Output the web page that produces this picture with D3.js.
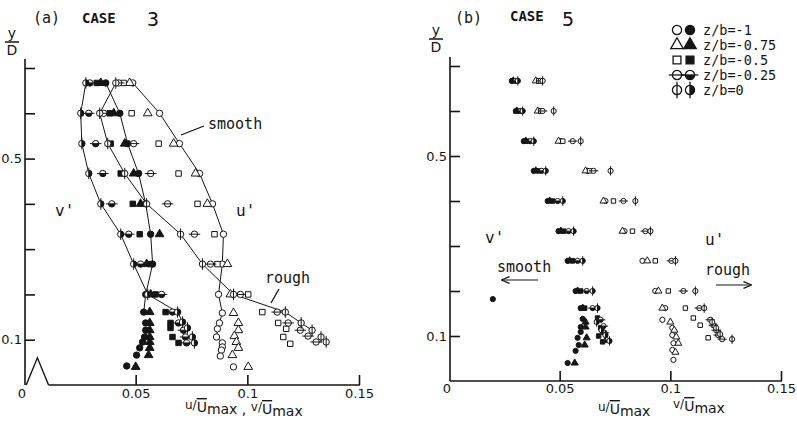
<!DOCTYPE html>
<html>
<head>
<meta charset="utf-8">
<script src="https://cdn.jsdelivr.net/npm/d3@7"></script>
<style>
  body { margin: 0; background: #fff; }
  svg { display: block; }
  .mono { font-family: "DejaVu Sans Mono", monospace; }
  .sans { font-family: "DejaVu Sans", sans-serif; }
</style>
</head>
<body>
<svg id="chart" width="797" height="422"></svg>
<script>
// ---- tick values / labels ----
const yTicks = [0.1, 0.2, 0.3, 0.4, 0.5, 0.6, 0.7];
const yLabelled = [0.1, 0.5];
const xTicks = [0.05, 0.1, 0.15];
const zbLabels = ["z/b=-1", "z/b=-0.75", "z/b=-0.5", "z/b=-0.25", "z/b=0"];
const shapes = ["circle", "triangle", "square", "hbar", "vbar"];

// ---- CASE 3 : u' (open symbols), one array per z/b ----
const c3u_m1 = [[0.0487,0.667],[0.0607,0.6],[0.0696,0.533],[0.0786,0.467],[0.0844,0.4],[0.0893,0.333],[0.0888,0.267],[0.0871,0.2],[0.0888,0.159],[0.0875,0.137],[0.0866,0.124],[0.0862,0.106],[0.0888,0.093],[0.0888,0.084],[0.0884,0.077],[0.0879,0.064],[0.0938,0.04]];
const c3u_m075 = [[0.0473,0.667],[0.0554,0.6],[0.067,0.533],[0.0768,0.467],[0.0821,0.4],[0.0911,0.267],[0.0924,0.2],[0.0938,0.159],[0.096,0.137],[0.096,0.121],[0.0942,0.108],[0.0951,0.095],[0.096,0.082],[0.0933,0.066],[0.1004,0.04]];
const c3u_m05 = [[0.0446,0.667],[0.0482,0.6],[0.0603,0.533],[0.0692,0.467],[0.0777,0.4],[0.0853,0.333],[0.0866,0.267],[0.1004,0.2],[0.1067,0.161],[0.1138,0.137],[0.1174,0.124],[0.1161,0.106],[0.1192,0.091]];
const c3u_m025 = [[0.0424,0.667],[0.0357,0.6],[0.0491,0.533],[0.0567,0.467],[0.0643,0.4],[0.0763,0.333],[0.0835,0.267],[0.0969,0.2],[0.1134,0.161],[0.1183,0.137],[0.1237,0.121],[0.1272,0.108],[0.1308,0.095]];
const c3u_0 = [[0.0411,0.667],[0.0339,0.6],[0.0375,0.533],[0.0451,0.467],[0.0549,0.4],[0.0701,0.333],[0.0799,0.267],[0.0938,0.2],[0.117,0.161],[0.1241,0.137],[0.129,0.121],[0.133,0.106],[0.1353,0.095]];

// ---- CASE 3 : v' (filled symbols) ----
const c3v_m1 = [[0.0366,0.667],[0.0429,0.6],[0.0464,0.533],[0.0513,0.467],[0.0545,0.4],[0.0567,0.333],[0.0576,0.267],[0.0545,0.2],[0.0536,0.161],[0.0545,0.137],[0.0545,0.121],[0.054,0.106],[0.0531,0.095],[0.0518,0.082],[0.0504,0.066],[0.046,0.042]];
const c3v_m075 = [[0.0344,0.667],[0.0402,0.6],[0.0451,0.533],[0.0491,0.467],[0.0522,0.4],[0.0607,0.333],[0.0549,0.267],[0.0567,0.2],[0.0563,0.161],[0.0563,0.137],[0.0563,0.121],[0.0563,0.106],[0.0563,0.095],[0.0563,0.082],[0.0558,0.066],[0.05,0.04]];
const c3v_m05 = [[0.0326,0.667],[0.0384,0.6],[0.0388,0.533],[0.0433,0.467],[0.0487,0.4],[0.0518,0.333],[0.0567,0.267],[0.0589,0.2],[0.0634,0.161],[0.0656,0.137],[0.0656,0.126],[0.0665,0.106],[0.0692,0.093]];
const c3v_m025 = [[0.0295,0.667],[0.029,0.6],[0.0321,0.533],[0.0353,0.467],[0.0393,0.4],[0.0469,0.333],[0.0522,0.267],[0.0616,0.2],[0.0665,0.161],[0.0692,0.137],[0.0714,0.121],[0.0723,0.106],[0.0728,0.093]];
const c3v_0 = [[0.0277,0.667],[0.0254,0.6],[0.0259,0.533],[0.029,0.467],[0.0344,0.4],[0.0433,0.333],[0.0491,0.267],[0.0554,0.2],[0.0688,0.161],[0.071,0.139],[0.0732,0.126],[0.0754,0.106],[0.0763,0.093]];

// ---- CASE 5 : u' (open) ----
const c5u_m1 = [[0.0401,0.667],[0.041,0.6],[0.0505,0.533],[0.0626,0.467],[0.0707,0.4],[0.0793,0.333],[0.0874,0.267],[0.0932,0.2],[0.0977,0.162],[0.0964,0.136],[0.1009,0.118],[0.1009,0.102],[0.1014,0.084],[0.1009,0.069],[0.1014,0.047]];
const c5u_m075 = [[0.0392,0.667],[0.0401,0.6],[0.0495,0.533],[0.0617,0.467],[0.0698,0.4],[0.0784,0.333],[0.0896,0.267],[0.0946,0.2],[0.0964,0.162],[0.1,0.131],[0.1018,0.113],[0.1027,0.098],[0.1036,0.084],[0.1023,0.064]];
const c5u_m05 = [[0.0405,0.667],[0.0414,0.6],[0.0514,0.533],[0.0635,0.467],[0.0743,0.4],[0.0829,0.333],[0.0932,0.267],[0.0991,0.2],[0.1068,0.162],[0.1104,0.14],[0.1135,0.124],[0.1171,0.096]];
const c5u_m025 = [[0.0414,0.667],[0.0423,0.6],[0.0559,0.533],[0.0653,0.467],[0.0788,0.4],[0.0887,0.333],[0.1005,0.267],[0.1059,0.2],[0.1131,0.162],[0.118,0.136],[0.1194,0.124],[0.1207,0.113],[0.1216,0.102],[0.1234,0.093]];
const c5u_0 = [[0.0423,0.667],[0.0473,0.6],[0.0595,0.533],[0.073,0.467],[0.0842,0.4],[0.091,0.333],[0.1023,0.267],[0.1113,0.2],[0.1153,0.162],[0.1189,0.131],[0.1207,0.118],[0.1225,0.104],[0.1279,0.093]];

// ---- CASE 5 : v' (filled) ----
const c5v_m1 = [[0.0284,0.667],[0.0302,0.6],[0.0338,0.533],[0.0383,0.467],[0.0446,0.4],[0.0495,0.333],[0.0536,0.267],[0.0572,0.2],[0.0198,0.182],[0.0595,0.162],[0.0604,0.138],[0.0595,0.12],[0.0595,0.109],[0.0581,0.096],[0.0586,0.08],[0.0572,0.067],[0.0536,0.04]];
const c5v_m075 = [[0.029,0.667],[0.0306,0.6],[0.0347,0.533],[0.0392,0.467],[0.0455,0.4],[0.0505,0.333],[0.0545,0.267],[0.0581,0.2],[0.0604,0.162],[0.0617,0.131],[0.0617,0.12],[0.0622,0.096],[0.0613,0.08],[0.0568,0.04]];
const c5v_m05 = [[0.0293,0.667],[0.0315,0.6],[0.0356,0.533],[0.0405,0.467],[0.0468,0.4],[0.0518,0.333],[0.0559,0.267],[0.0595,0.2],[0.0613,0.162],[0.0671,0.14],[0.0685,0.118],[0.0676,0.1],[0.0694,0.087]];
const c5v_m025 = [[0.0302,0.667],[0.0324,0.6],[0.0369,0.533],[0.0419,0.467],[0.0491,0.4],[0.054,0.333],[0.0581,0.267],[0.0622,0.2],[0.0649,0.162],[0.0685,0.136],[0.0698,0.122],[0.0703,0.107],[0.0712,0.091]];
const c5v_0 = [[0.0311,0.667],[0.0333,0.6],[0.0383,0.533],[0.0437,0.467],[0.0514,0.4],[0.0563,0.333],[0.0604,0.267],[0.0649,0.2],[0.0671,0.162],[0.0667,0.131],[0.0689,0.113],[0.0707,0.102],[0.0725,0.089]];

const ink = "#151515";
const svg = d3.select("#chart");

// 面板比例尺
const xA = d3.scaleLinear().domain([0, 0.15]).range([24, 359]);
const yA = d3.scaleLinear().domain([0, 0.7]).range([385, 68]);
const xB = d3.scaleLinear().domain([0, 0.15]).range([449, 781]);
const yB = d3.scaleLinear().domain([0, 0.7]).range([381, 66]);

// 画一个符号
function drawMarker(g, shape, filled, cx, cy, r) {
    const m = g.append("g").attr("transform", `translate(${cx},${cy})`);
    const sw = r > 3.5 ? 1.3 : 1;
    if (shape === "circle") {
        m.append("circle").attr("r", r)
            .attr("fill", filled ? ink : "#fff").attr("stroke", ink).attr("stroke-width", sw);
    } else if (shape === "triangle") {
        m.append("path").attr("d", d3.symbol(d3.symbolTriangle, r * r * 3.2)())
            .attr("fill", filled ? ink : "#fff").attr("stroke", ink).attr("stroke-width", sw);
    } else if (shape === "square") {
        m.append("path").attr("d", d3.symbol(d3.symbolSquare, r * r * 2.9)())
            .attr("fill", filled ? ink : "#fff").attr("stroke", ink).attr("stroke-width", sw);
    } else {
        m.append("circle").attr("r", r).attr("fill", "#fff").attr("stroke", ink).attr("stroke-width", sw);
        if (filled) {
            // 半黑: 横线符号填下半, 竖线符号填右半
            const d = shape === "hbar"
                ? `M${-r},0 A${r},${r} 0 0 0 ${r},0 Z`
                : `M0,${-r} A${r},${r} 0 0 1 0,${r} Z`;
            m.append("path").attr("d", d).attr("fill", ink);
        }
        if (shape === "hbar") {
            m.append("line").attr("x1", -r * 1.8).attr("x2", r * 1.8).attr("stroke", ink).attr("stroke-width", sw);
        } else {
            m.append("line").attr("y1", -r * 1.8).attr("y2", r * 1.8).attr("stroke", ink).attr("stroke-width", sw);
        }
    }
}

// 坐标轴
function drawAxes(x, y, brokenOrigin, pad) {
    const g = svg.append("g");
    const yAxis = g.append("g")
        .attr("transform", `translate(${x(0) + 1},0)`)
        .call(d3.axisLeft(y).tickValues(yTicks).tickSizeInner(-10).tickSizeOuter(0).tickPadding(3)
            .tickFormat(d => yLabelled.includes(d) ? String(d) : ""));
    yAxis.select(".domain").remove();
    yAxis.selectAll("line").attr("stroke", ink).attr("stroke-width", 1.6);
    yAxis.selectAll("text").attr("class", "sans").attr("font-size", 13).attr("fill", ink);
    g.append("line")
        .attr("x1", x(0) + 1).attr("x2", x(0) + 1)
        .attr("y1", y(0.72)).attr("y2", y(0))
        .attr("stroke", ink).attr("stroke-width", 1.6);

    const xAxis = g.append("g")
        .attr("transform", `translate(0,${y(0)})`)
        .call(d3.axisBottom(x).tickValues(xTicks).tickSizeInner(-10).tickSizeOuter(0).tickPadding(pad)
            .tickFormat(d => String(d)));
    xAxis.select(".domain").remove();
    xAxis.selectAll("line").attr("stroke", ink).attr("stroke-width", 1.6);
    xAxis.selectAll("text").attr("class", "sans").attr("font-size", 13).attr("fill", ink);
    g.append("text").attr("class", "sans").attr("font-size", 13).attr("fill", ink)
        .attr("x", x(0) - 2).attr("y", y(0) + pad + 9).attr("text-anchor", "middle").text("0");

    const x0 = brokenOrigin ? x(0.011) : x(0) + 1;
    g.append("line")
        .attr("x1", x0).attr("x2", x(0.15) + 1)
        .attr("y1", y(0)).attr("y2", y(0))
        .attr("stroke", ink).attr("stroke-width", 1.6);
    if (brokenOrigin) {
        // 原点处的折断符号
        g.append("path")
            .attr("d", d3.line()([[x(0.001), y(0)], [x(0.006), y(0.06)], [x(0.011), y(0)]]))
            .attr("fill", "none").attr("stroke", ink).attr("stroke-width", 1.4);
    }
}

drawAxes(xA, yA, true, 4);
drawAxes(xB, yB, false, 3);

// 连线 (case 3: z/b=-1 与 z/b=0 的剖面)
const lineA = d3.line().x(d => xA(d[0])).y(d => yA(d[1]));
[[c3u_m1, 16], [c3u_0, 11], [c3v_m1, 9], [c3v_0, 10]].forEach(([series, n]) => {
    svg.append("path")
        .datum(series.slice(0, n))
        .attr("d", lineA)
        .attr("fill", "none")
        .attr("stroke", ink)
        .attr("stroke-width", 1);
});

// 符号
const c3u = [c3u_m1, c3u_m075, c3u_m05, c3u_m025, c3u_0];
const c3v = [c3v_m1, c3v_m075, c3v_m05, c3v_m025, c3v_0];
const c5u = [c5u_m1, c5u_m075, c5u_m05, c5u_m025, c5u_0];
const c5v = [c5v_m1, c5v_m075, c5v_m05, c5v_m025, c5v_0];

const gA = svg.append("g");
[[c3v, true], [c3u, false]].forEach(([group, filled]) => {
    group.forEach((series, i) => {
        series.forEach(d => drawMarker(gA, shapes[i], filled, xA(d[0]), yA(d[1]), 3.2));
    });
});
const gB = svg.append("g");
[[c5v, true], [c5u, false]].forEach(([group, filled]) => {
    group.forEach((series, i) => {
        series.forEach(d => drawMarker(gB, shapes[i], filled, xB(d[0]), yB(d[1]), 2.6));
    });
});

// 文字
function label(x, y, txt, size, cls, anchor) {
    return svg.append("text").attr("class", cls || "mono")
        .attr("x", x).attr("y", y).attr("font-size", size)
        .attr("text-anchor", anchor || "start").attr("fill", ink).text(txt);
}

// 标题
label(33, 23, "(a)", 15);
label(82, 23, "CASE", 14).attr("font-weight", "bold");
label(147, 26, "3", 20);
label(455, 23, "(b)", 15);
label(510, 21, "CASE", 14).attr("font-weight", "bold");
label(562, 26, "5", 20);

// y/D
[[12, 0], [436, -3]].forEach(([cx, dy]) => {
    label(cx, 38 + dy, "y", 14, "sans", "middle");
    svg.append("line").attr("x1", cx - 7).attr("x2", cx + 7)
        .attr("y1", 42 + dy).attr("y2", 42 + dy).attr("stroke", ink).attr("stroke-width", 1.5);
    label(cx, 55 + dy, "D", 14, "sans", "middle");
});

// 面板 a 注释
label(208, 129, "smooth", 15);
svg.append("line").attr("x1", 204).attr("y1", 126).attr("x2", 181).attr("y2", 135).attr("stroke", ink).attr("stroke-width", 1.3);
label(265, 283, "rough", 15);
svg.append("line").attr("x1", 279).attr("y1", 289).attr("x2", 271).attr("y2", 303).attr("stroke", ink).attr("stroke-width", 1.3);
label(55, 216, "v'", 16);
label(236, 216, "u'", 16);

// 面板 b 注释
label(485, 243, "v'", 16);
label(705, 245, "u'", 16);
label(497, 272, "smooth", 15);
label(705, 275, "rough", 15);
svg.append("defs").html(
    `<marker id="ah" viewBox="0 0 10 10" refX="9" refY="5" markerWidth="7" markerHeight="7" orient="auto-start-reverse">
       <path d="M0,1 L10,5 L0,9" fill="none" stroke="${ink}" stroke-width="1.5"/></marker>`);
svg.append("line").attr("x1", 538).attr("y1", 280).attr("x2", 502).attr("y2", 280)
    .attr("stroke", ink).attr("stroke-width", 1.2).attr("marker-end", "url(#ah)");
svg.append("line").attr("x1", 716).attr("y1", 285).attr("x2", 751).attr("y2", 285)
    .attr("stroke", ink).attr("stroke-width", 1.2).attr("marker-end", "url(#ah)");

// x 轴标题
function axisTitle(x, y, parts) {
    const t = svg.append("text").attr("class", "sans").attr("x", x).attr("y", y)
        .attr("font-size", 14).attr("fill", ink);
    parts.forEach(p => {
        const s = t.append("tspan").text(p.t);
        if (p.dy) s.attr("dy", p.dy);
        if (p.size) s.attr("font-size", p.size);
        if (p.over) s.style("text-decoration", "overline");
    });
}
const qty = (v) => [
    { t: v + "/", size: 12, dy: -3 },
    { t: "U", over: true, dy: 3 },
    { t: "max", size: 14, dy: 2 },
    { t: "", dy: -2 }
];
axisTitle(185, 412, [...qty("u"), { t: " , " }, ...qty("v")]);
axisTitle(598, 414, qty("u"));
axisTitle(673, 411, qty("v"));

// 图例
const legendRows = [30, 45, 60, 75, 90];
zbLabels.forEach((txt, i) => {
    drawMarker(svg, shapes[i], false, 677, legendRows[i], 4.6);
    drawMarker(svg, shapes[i], true, 690, legendRows[i], 4.6);
    label(703, legendRows[i] + 5, txt, 13.5);
});
</script>
</body>
</html>
